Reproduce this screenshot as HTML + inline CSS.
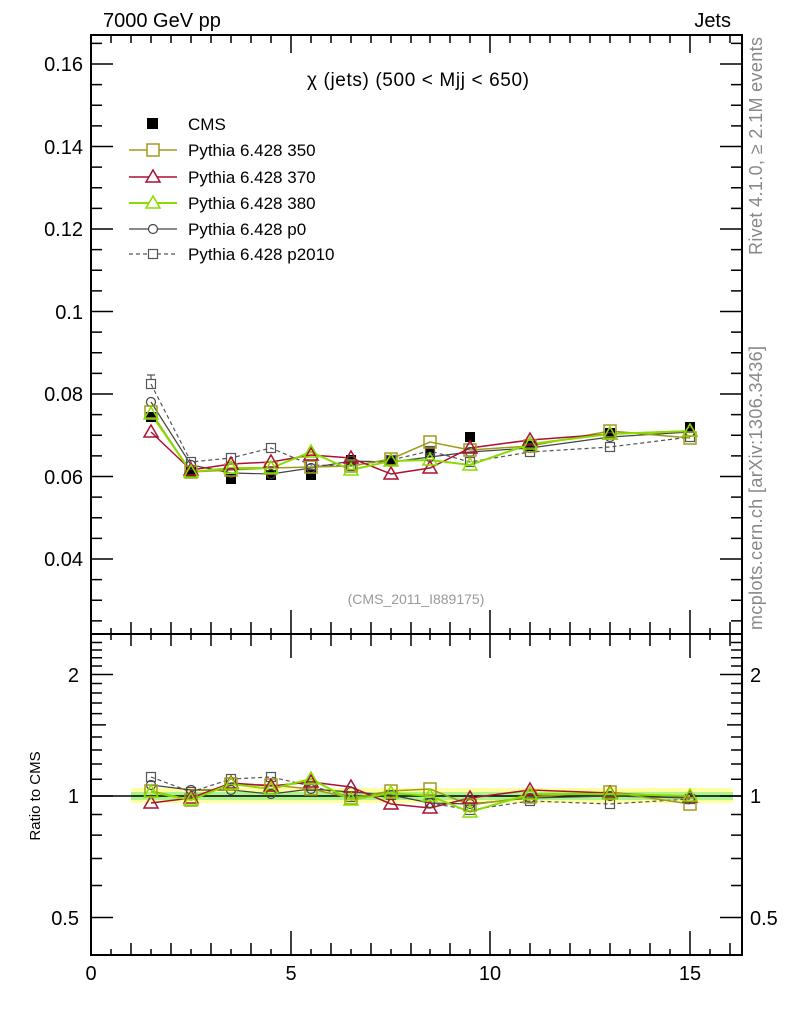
<!DOCTYPE html>
<html><head><meta charset="utf-8"><style>
html,body{margin:0;padding:0;background:#fff}
svg{display:block;font-family:"Liberation Sans",sans-serif}
</style></head><body>
<svg width="786" height="1024" viewBox="0 0 786 1024" xmlns="http://www.w3.org/2000/svg">
<rect width="786" height="1024" fill="#fff"/>
<!-- ratio bands -->
<rect x="131" y="788" width="602" height="15" fill="#ffff88" opacity="0.8"/>
<rect x="131" y="792" width="602" height="8" fill="#88ee88" opacity="0.7"/>
<line x1="91" y1="796" x2="742" y2="796" stroke="#000" stroke-width="1.5"/>

<g fill="none" stroke="#000" stroke-width="2">
<rect x="91" y="35" width="651" height="599"/>
<rect x="91" y="634" width="651" height="321"/>
</g>
<g stroke="#000" stroke-width="1.5" fill="none">
<path d="M91 559h22M91 476.5h22M91 394h22M91 311.5h22M91 229h22M91 146.5h22M91 64h22 M742 559h-22M742 476.5h-22M742 394h-22M742 311.5h-22M742 229h-22M742 146.5h-22M742 64h-22"/>
<path d="M91 620.9h11M91 600.3h11M91 579.6h11M91 538.4h11M91 517.8h11M91 497.1h11M91 455.9h11M91 435.3h11M91 414.6h11M91 373.4h11M91 352.8h11M91 332.1h11M91 290.9h11M91 270.3h11M91 249.6h11M91 208.4h11M91 187.8h11M91 167.1h11M91 125.9h11M91 105.3h11M91 84.6h11M91 43.4h11
M742 620.9h-11M742 600.3h-11M742 579.6h-11M742 538.4h-11M742 517.8h-11M742 497.1h-11M742 455.9h-11M742 435.3h-11M742 414.6h-11M742 373.4h-11M742 352.8h-11M742 332.1h-11M742 290.9h-11M742 270.3h-11M742 249.6h-11M742 208.4h-11M742 187.8h-11M742 167.1h-11M742 125.9h-11M742 105.3h-11M742 84.6h-11M742 43.4h-11"/>
<path d="M91 917.5h22M91 796h22M91 674.5h22M742 917.5h-22M742 796h-22M742 674.5h-22 M91 724.9h15M742 724.9h-15"/>
<path d="M91 885.5h11M91 858.5h11M91 835.1h11M91 814.5h11M91 779.3h11M91 764h11M91 750h11M91 737h11M91 713.6h11M91 703h11M91 693h11M91 683.5h11M91 666h11M91 657.8h11M91 650h11M91 642.5h11
M742 885.5h-11M742 858.5h-11M742 835.1h-11M742 814.5h-11M742 779.3h-11M742 764h-11M742 750h-11M742 737h-11M742 713.6h-11M742 703h-11M742 693h-11M742 683.5h-11M742 666h-11M742 657.8h-11M742 650h-11M742 642.5h-11"/>
<!-- x ticks -->
<path d="M291 634v-24M490 634v-24M690 634v-24M291 35v18M490 35v18M690 35v18M291 634v24M490 634v24M690 634v24M291 955v-24M490 955v-24M690 955v-24"/>
<path d="M131 634v-12M171 634v-12M211 634v-12M251 634v-12M331 634v-12M371 634v-12M411 634v-12M450 634v-12M530 634v-12M570 634v-12M610 634v-12M650 634v-12M730 634v-12
M131 35v8M171 35v8M211 35v8M251 35v8M331 35v8M371 35v8M411 35v8M450 35v8M530 35v8M570 35v8M610 35v8M650 35v8M730 35v8
M131 634v12M171 634v12M211 634v12M251 634v12M331 634v12M371 634v12M411 634v12M450 634v12M530 634v12M570 634v12M610 634v12M650 634v12M730 634v12
M131 955v-12M171 955v-12M211 955v-12M251 955v-12M331 955v-12M371 955v-12M411 955v-12M450 955v-12M530 955v-12M570 955v-12M610 955v-12M650 955v-12M730 955v-12"/>
<path d="M111 634v-6M151 634v-6M191 634v-6M231 634v-6M271 634v-6M311 634v-6M351 634v-6M391 634v-6M430 634v-6M470 634v-6M510 634v-6M550 634v-6M590 634v-6M630 634v-6M670 634v-6M710 634v-6
M111 35v8M151 35v8M191 35v8M231 35v8M271 35v8M311 35v8M351 35v8M391 35v8M430 35v8M470 35v8M510 35v8M550 35v8M590 35v8M630 35v8M670 35v8M710 35v8
M111 634v6M151 634v6M191 634v6M231 634v6M271 634v6M311 634v6M351 634v6M391 634v6M430 634v6M470 634v6M510 634v6M550 634v6M590 634v6M630 634v6M670 634v6M710 634v6
M111 955v-6M151 955v-6M191 955v-6M231 955v-6M271 955v-6M311 955v-6M351 955v-6M391 955v-6M430 955v-6M470 955v-6M510 955v-6M550 955v-6M590 955v-6M630 955v-6M670 955v-6M710 955v-6"/>
</g>

<g font-size="20" fill="#000">
<text x="83" y="71" text-anchor="end">0.16</text>
<text x="83" y="154" text-anchor="end">0.14</text>
<text x="83" y="236" text-anchor="end">0.12</text>
<text x="83" y="319" text-anchor="end">0.1</text>
<text x="83" y="401" text-anchor="end">0.08</text>
<text x="83" y="484" text-anchor="end">0.06</text>
<text x="83" y="566" text-anchor="end">0.04</text>
<text x="79" y="682" text-anchor="end">2</text>
<text x="79" y="803" text-anchor="end">1</text>
<text x="79" y="925" text-anchor="end">0.5</text>
<text x="750" y="682">2</text>
<text x="750" y="803">1</text>
<text x="750" y="925">0.5</text>
<text x="91" y="980" text-anchor="middle">0</text>
<text x="291" y="980" text-anchor="middle">5</text>
<text x="490" y="980" text-anchor="middle">10</text>
<text x="690" y="980" text-anchor="middle">15</text>
<text x="103" y="27">7000 GeV pp</text>
<text x="731" y="27" text-anchor="end">Jets</text>
</g>
<text x="418" y="86" font-size="19" text-anchor="middle" textLength="222">χ (jets) (500 &lt; Mjj &lt;  650)</text>
<text x="416" y="604" font-size="14" fill="#999" text-anchor="middle">(CMS_2011_I889175)</text>
<text transform="translate(40,796) rotate(-90)" font-size="15" text-anchor="middle">Ratio to CMS</text>
<text transform="translate(762,255) rotate(-90)" font-size="18" fill="#888" textLength="218">Rivet 4.1.0, ≥ 2.1M events</text>
<text transform="translate(762,630) rotate(-90)" font-size="18" fill="#888" textLength="284">mcplots.cern.ch [arXiv:1306.3436]</text>

<g font-size="17">
<rect x="147" y="118" width="11" height="11" fill="#000"/>
<text x="188" y="130">CMS</text>
<line x1="129" y1="150" x2="177" y2="150" stroke="#a09a1a" stroke-width="1.5"/>
<rect x="147" y="144" width="12" height="12" fill="#fff" stroke="#a09a1a" stroke-width="1.5"/>
<text x="188" y="156">Pythia 6.428 350</text>
<line x1="129" y1="177" x2="177" y2="177" stroke="#aa1133" stroke-width="1.5"/>
<path d="M153 170l7 12h-14z" fill="#fff" stroke="#aa1133" stroke-width="1.5"/>
<text x="188" y="183">Pythia 6.428 370</text>
<line x1="129" y1="203" x2="177" y2="203" stroke="#88dd00" stroke-width="2"/>
<path d="M153 196l7 12h-14z" fill="#fff" stroke="#88dd00" stroke-width="1.5"/>
<text x="188" y="209">Pythia 6.428 380</text>
<line x1="129" y1="229" x2="177" y2="229" stroke="#444" stroke-width="1.2"/>
<circle cx="153" cy="229" r="4.5" fill="#fff" stroke="#444" stroke-width="1.2"/>
<text x="188" y="235">Pythia 6.428 p0</text>
<line x1="129" y1="254" x2="177" y2="254" stroke="#555" stroke-width="1.2" stroke-dasharray="4,3"/>
<rect x="148.5" y="249.5" width="9" height="9" fill="#fff" stroke="#555" stroke-width="1.2"/>
<text x="188" y="260">Pythia 6.428 p2010</text>
</g>

<g fill="none" stroke-width="1.5">
<polyline stroke="#555" stroke-dasharray="4,3" stroke-width="1.2" points="151,384 191,462 231,458 271,448 311,465 351,466 391,460 430,451 470,462 530,452 610,447 690,437"/>
<polyline stroke="#444" stroke-width="1.2" points="151,402 191,465 231,473 271,474 311,468 351,461 391,462 430,457 470,452 530,448 610,437 690,432"/>
<polyline stroke="#a09a1a" points="151,412 191,472 231,470 271,468 311,467 351,466 391,459 430,442 470,450 530,446 610,431 690,438"/>
<polyline stroke="#aa1133" points="151,432 191,470 231,464 271,462 311,455 351,458 391,474 430,468 470,448 530,440 610,434 690,431"/>
<polyline stroke="#88dd00" stroke-width="2" points="151,414 191,472 231,468 271,468 311,452 351,470 391,461 430,460 470,465 530,444 610,434 690,431"/>
</g>
<g fill="#000">
<rect x="146" y="412" width="10" height="10"/><rect x="186" y="467" width="10" height="10"/><rect x="226" y="474" width="10" height="10"/><rect x="266" y="470" width="10" height="10"/><rect x="306" y="470" width="10" height="10"/><rect x="346" y="455" width="10" height="10"/><rect x="386" y="455" width="10" height="10"/><rect x="425" y="447" width="10" height="10"/><rect x="465" y="432" width="10" height="10"/><rect x="525" y="441" width="10" height="10"/><rect x="605" y="428" width="10" height="10"/><rect x="685" y="422" width="10" height="10"/>
</g>
<g fill="none" stroke="#555" stroke-width="1.2">
<rect x="146.5" y="379.5" width="9" height="9"/><rect x="186.5" y="457.5" width="9" height="9"/><rect x="226.5" y="453.5" width="9" height="9"/><rect x="266.5" y="443.5" width="9" height="9"/><rect x="306.5" y="460.5" width="9" height="9"/><rect x="346.5" y="461.5" width="9" height="9"/><rect x="386.5" y="455.5" width="9" height="9"/><rect x="425.5" y="446.5" width="9" height="9"/><rect x="465.5" y="457.5" width="9" height="9"/><rect x="525.5" y="447.5" width="9" height="9"/><rect x="605.5" y="442.5" width="9" height="9"/><rect x="685.5" y="432.5" width="9" height="9"/>
<path d="M151 375v5M147 375h8"/>
</g>
<g fill="none" stroke="#444" stroke-width="1.2">
<circle cx="151" cy="402" r="4.5"/><circle cx="191" cy="465" r="4.5"/><circle cx="231" cy="473" r="4.5"/><circle cx="271" cy="474" r="4.5"/><circle cx="311" cy="468" r="4.5"/><circle cx="351" cy="461" r="4.5"/><circle cx="391" cy="462" r="4.5"/><circle cx="430" cy="457" r="4.5"/><circle cx="470" cy="452" r="4.5"/><circle cx="530" cy="448" r="4.5"/><circle cx="610" cy="437" r="4.5"/><circle cx="690" cy="432" r="4.5"/>
</g>
<g fill="none" stroke="#a09a1a" stroke-width="1.5">
<rect x="145" y="406" width="12" height="12"/><rect x="185" y="466" width="12" height="12"/><rect x="225" y="464" width="12" height="12"/><rect x="265" y="462" width="12" height="12"/><rect x="305" y="461" width="12" height="12"/><rect x="345" y="460" width="12" height="12"/><rect x="385" y="453" width="12" height="12"/><rect x="424" y="436" width="12" height="12"/><rect x="464" y="444" width="12" height="12"/><rect x="524" y="440" width="12" height="12"/><rect x="604" y="425" width="12" height="12"/><rect x="684" y="432" width="12" height="12"/>
</g>
<g fill="none" stroke="#aa1133" stroke-width="1.5">
<path d="M151 425l7 12h-14z M191 463l7 12h-14z M231 457l7 12h-14z M271 455l7 12h-14z M311 448l7 12h-14z M351 451l7 12h-14z M391 467l7 12h-14z M430 461l7 12h-14z M470 441l7 12h-14z M530 433l7 12h-14z M610 427l7 12h-14z M690 424l7 12h-14z"/>
</g>
<g fill="none" stroke="#88dd00" stroke-width="1.5">
<path d="M151 407l7 12h-14z M191 465l7 12h-14z M231 461l7 12h-14z M271 461l7 12h-14z M311 445l7 12h-14z M351 463l7 12h-14z M391 454l7 12h-14z M430 453l7 12h-14z M470 458l7 12h-14z M530 437l7 12h-14z M610 427l7 12h-14z M690 424l7 12h-14z"/>
</g>

<g fill="none" stroke-width="1.5">
<polyline stroke="#555" stroke-dasharray="4,3" stroke-width="1.2" points="151,777 191,792 231,779 271,777 311,786 351,797 391,795 430,803 470,810 530,801 610,804 690,799"/>
<polyline stroke="#444" stroke-width="1.2" points="151,785 191,790 231,790 271,794 311,789 351,792 391,795 430,803 470,804 530,798 610,796 690,798"/>
<polyline stroke="#a09a1a" points="151,791 191,800 231,784 271,785 311,789 351,798 391,791 430,789 470,805 530,797 610,792 690,804"/>
<polyline stroke="#aa1133" points="151,803 191,798 231,783 271,786 311,782 351,787 391,804 430,808 470,798 530,790 610,793 690,797"/>
<polyline stroke="#88dd00" stroke-width="2" points="151,792 191,800 231,784 271,789 311,779 351,800 391,793 430,796 470,812 530,794 610,794 690,796"/>
</g>
<g fill="none" stroke="#555" stroke-width="1.2">
<rect x="146.5" y="772.5" width="9" height="9"/><rect x="186.5" y="787.5" width="9" height="9"/><rect x="226.5" y="774.5" width="9" height="9"/><rect x="266.5" y="772.5" width="9" height="9"/><rect x="306.5" y="781.5" width="9" height="9"/><rect x="346.5" y="792.5" width="9" height="9"/><rect x="386.5" y="790.5" width="9" height="9"/><rect x="425.5" y="798.5" width="9" height="9"/><rect x="465.5" y="805.5" width="9" height="9"/><rect x="525.5" y="796.5" width="9" height="9"/><rect x="605.5" y="799.5" width="9" height="9"/><rect x="685.5" y="794.5" width="9" height="9"/>
</g>
<g fill="none" stroke="#444" stroke-width="1.2">
<circle cx="151" cy="785" r="4.5"/><circle cx="191" cy="790" r="4.5"/><circle cx="231" cy="790" r="4.5"/><circle cx="271" cy="794" r="4.5"/><circle cx="311" cy="789" r="4.5"/><circle cx="351" cy="792" r="4.5"/><circle cx="391" cy="795" r="4.5"/><circle cx="430" cy="803" r="4.5"/><circle cx="470" cy="804" r="4.5"/><circle cx="530" cy="798" r="4.5"/><circle cx="610" cy="796" r="4.5"/><circle cx="690" cy="798" r="4.5"/>
</g>
<g fill="none" stroke="#a09a1a" stroke-width="1.5">
<rect x="145" y="785" width="12" height="12"/><rect x="185" y="794" width="12" height="12"/><rect x="225" y="778" width="12" height="12"/><rect x="265" y="779" width="12" height="12"/><rect x="305" y="783" width="12" height="12"/><rect x="345" y="792" width="12" height="12"/><rect x="385" y="785" width="12" height="12"/><rect x="424" y="783" width="12" height="12"/><rect x="464" y="799" width="12" height="12"/><rect x="524" y="791" width="12" height="12"/><rect x="604" y="786" width="12" height="12"/><rect x="684" y="798" width="12" height="12"/>
</g>
<g fill="none" stroke="#aa1133" stroke-width="1.5">
<path d="M151 796l7 12h-14z M191 791l7 12h-14z M231 776l7 12h-14z M271 779l7 12h-14z M311 775l7 12h-14z M351 780l7 12h-14z M391 797l7 12h-14z M430 801l7 12h-14z M470 791l7 12h-14z M530 783l7 12h-14z M610 786l7 12h-14z M690 790l7 12h-14z"/>
</g>
<g fill="none" stroke="#88dd00" stroke-width="1.5">
<path d="M151 785l7 12h-14z M191 793l7 12h-14z M231 777l7 12h-14z M271 782l7 12h-14z M311 772l7 12h-14z M351 793l7 12h-14z M391 786l7 12h-14z M430 789l7 12h-14z M470 805l7 12h-14z M530 787l7 12h-14z M610 787l7 12h-14z M690 789l7 12h-14z"/>
</g>
</svg>
</body></html>
